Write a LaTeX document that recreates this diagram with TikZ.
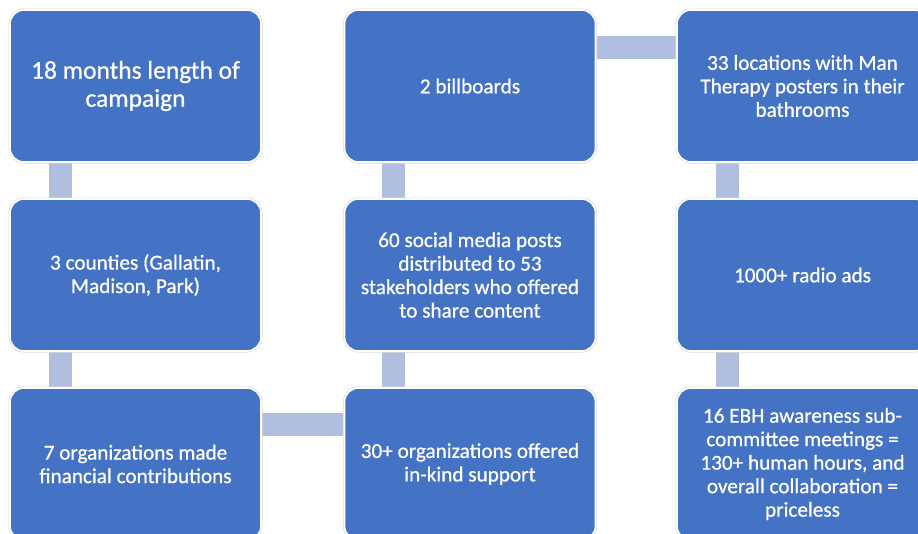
\documentclass[tikz,border=0pt]{standalone}
\usepackage{fontspec}
\setmainfont{Carlito}
\newfontfamily\boxfont{Carlito}[FakeBold=0.7]
\usetikzlibrary{backgrounds}
\definecolor{boxblue}{HTML}{4472C4}
\definecolor{linkblue}{HTML}{B0BEDF}
\begin{document}
\begin{tikzpicture}[x=1pt,y=-1pt,
  infobox/.style={rectangle, rounded corners=14pt, fill=boxblue, draw=white,
    line width=1.6pt, preaction={draw=black!14, line width=3pt},
    minimum width=251pt, minimum height=152pt, inner sep=0pt,
    align=center, text=white, font=\boxfont\fontsize{21.2}{23.5}\selectfont},
  bigtext/.style={font=\boxfont\fontsize{25.5}{28}\selectfont},
  link/.style={draw=linkblue, line width=23pt}]
\useasboundingbox (0,0) rectangle (918,533);
\clip (0,0) rectangle (918,533);

% box centres, three rows by three columns
\coordinate (c11) at (135.5,86);
\coordinate (c12) at (470,86);
\coordinate (c13) at (802.5,86);
\coordinate (c21) at (135.5,275);
\coordinate (c22) at (470,275);
\coordinate (c23) at (802.5,275);
\coordinate (c31) at (135.5,464);
\coordinate (c32) at (470,464);
\coordinate (c33) at (802.5,464);

\node[infobox, bigtext] (b11) at (c11) {18 months length of\\campaign};
\node[infobox] (b12) at (c12) {2 billboards};
\node[infobox] (b13) at (c13) {33 locations with Man\\Therapy posters in their\\bathrooms};
\node[infobox] (b21) at (c21) {3 counties (Gallatin,\\Madison, Park)};
\node[infobox] (b22) at (c22) {60 social media posts\\distributed to 53\\stakeholders who offered\\to share content};
\node[infobox] (b23) at (c23) {1000+ radio ads};
\node[infobox] (b31) at (c31) {7 organizations made\\financial contributions};
\node[infobox] (b32) at (c32) {30+ organizations offered\\in-kind support};
\node[infobox] (b33) at (c33) {16 EBH awareness sub-\\committee meetings =\\130+ human hours, and\\overall collaboration =\\priceless};

% bars between boxes, kept behind the boxes
\begin{pgfonlayer}{background}
\draw[link] ([xshift=51.5pt]b11.south west) -- ([xshift=51.5pt]b21.north west);
\draw[link] ([xshift=51.5pt]b21.south west) -- ([xshift=51.5pt]b31.north west);
\draw[link] ([yshift=-37.5pt]b31.north east) -- ([yshift=-37.5pt]b32.north west);
\draw[link] ([xshift=49.5pt]b32.north west) -- ([xshift=49.5pt]b22.south west);
\draw[link] ([xshift=49.5pt]b22.north west) -- ([xshift=49.5pt]b12.south west);
\draw[link] ([yshift=-38pt]b12.north east) -- ([yshift=-38pt]b13.north west);
\draw[link] ([xshift=51pt]b13.south west) -- ([xshift=51pt]b23.north west);
\draw[link] ([xshift=51pt]b23.south west) -- ([xshift=51pt]b33.north west);
\end{pgfonlayer}
\end{tikzpicture}
\end{document}
